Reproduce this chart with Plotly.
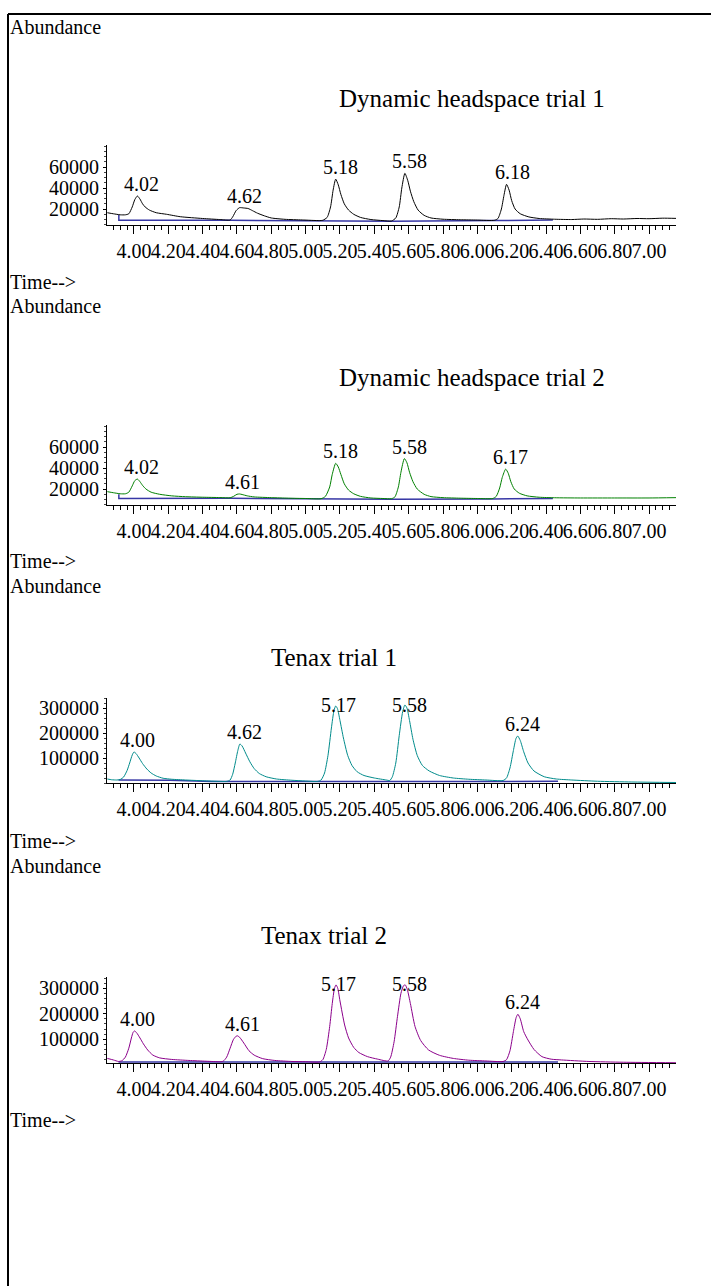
import plotly.graph_objects as go

W, H = 711, 1286
FONT = "'Liberation Serif', 'Times New Roman', 'DejaVu Serif', serif"

# ---------------- data ----------------
tick_labels = ["4.00", "4.20", "4.40", "4.60", "4.80", "5.00", "5.20", "5.40",
               "5.60", "5.80", "6.00", "6.20", "6.40", "6.60", "6.80", "7.00"]
x_range = [3.843, 7.157]

titles = ["Dynamic headspace trial 1", "Dynamic headspace trial 2",
          "Tenax trial 1", "Tenax trial 2"]

# Dynamic headspace trial 1 (black)
p1_time = [3.845, 3.88, 3.92, 3.95, 3.97, 3.99, 4.005, 4.02, 4.035, 4.05, 4.065, 4.09,
           4.13, 4.19, 4.27, 4.40, 4.50, 4.56, 4.575, 4.595, 4.615, 4.64, 4.665, 4.69,
           4.72, 4.76, 4.80, 4.88, 4.98, 5.08, 5.10, 5.125, 5.145, 5.16, 5.175, 5.19,
           5.205, 5.225, 5.25, 5.28, 5.32, 5.38, 5.45, 5.50, 5.525, 5.545, 5.56, 5.578,
           5.595, 5.61, 5.63, 5.655, 5.69, 5.73, 5.80, 5.90, 6.00, 6.10, 6.12, 6.14,
           6.155, 6.17, 6.185, 6.20, 6.22, 6.25, 6.30, 6.36, 6.45, 6.55, 6.62, 6.70,
           6.78, 6.85, 6.93, 7.00, 7.08, 7.157]
p1_abund = [16500, 15500, 14500, 14500, 15500, 22000, 29000, 32400, 29500, 25000, 22000, 19000,
            16500, 15000, 12700, 11000, 10000, 9600, 12500, 18500, 21300, 21000, 20500, 18500,
            16000, 13500, 11500, 10200, 9600, 9000, 9300, 12000, 22000, 38000, 48500, 43000,
            34000, 25000, 19000, 15000, 12000, 10000, 9000, 8600, 11500, 22000, 40000, 54000,
            47000, 37000, 27000, 19000, 14000, 11500, 10300, 9800, 9500, 9300, 11000, 20000,
            33000, 43500, 38000, 28000, 20000, 15500, 12500, 11000, 10300, 10000, 10500, 10200,
            10800, 10500, 11000, 10800, 11300, 11100]
p1_base_t = [3.912, 3.912, 4.56, 5.08, 5.50, 6.11, 6.44]
p1_base_a = [14300, 9400, 9300, 8600, 8300, 9100, 9500]
p1_rt = [4.02, 4.62, 5.18, 5.58, 6.18]
p1_peak = [32400, 21300, 48500, 54000, 43500]

# Dynamic headspace trial 2 (green)
p2_time = [3.845, 3.88, 3.92, 3.95, 3.97, 3.99, 4.005, 4.02, 4.035, 4.05, 4.07, 4.10,
           4.15, 4.22, 4.30, 4.40, 4.50, 4.56, 4.58, 4.60, 4.615, 4.63, 4.66, 4.70,
           4.80, 4.90, 5.00, 5.09, 5.115, 5.14, 5.155, 5.175, 5.19, 5.205, 5.225, 5.25,
           5.28, 5.32, 5.38, 5.45, 5.50, 5.52, 5.54, 5.555, 5.575, 5.59, 5.605, 5.625,
           5.65, 5.69, 5.73, 5.80, 5.90, 6.00, 6.09, 6.11, 6.13, 6.145, 6.165, 6.18,
           6.195, 6.215, 6.245, 6.29, 6.36, 6.45, 6.60, 6.80, 7.00, 7.157]
p2_abund = [17500, 16500, 15500, 15500, 17000, 23000, 28000, 29500, 27000, 23500, 20000, 17000,
            15000, 13500, 12700, 12200, 11900, 11700, 13000, 15000, 15300, 14800, 13500, 12500,
            11800, 11300, 11000, 10800, 13000, 22000, 34000, 44500, 41000, 34000, 25000, 19000,
            15500, 13000, 11500, 11000, 10800, 12500, 22000, 36000, 49000, 45000, 36000, 27000,
            20000, 15000, 12800, 11800, 11300, 11000, 11000, 13000, 21000, 31000, 39000, 35000,
            27000, 20000, 16000, 13500, 12200, 11700, 11500, 11500, 11500, 11800]
p2_base_t = [3.912, 3.912, 4.56, 5.09, 5.50, 6.09, 6.44]
p2_base_a = [15000, 11000, 11200, 10400, 10200, 10600, 11000]
p2_rt = [4.02, 4.61, 5.18, 5.58, 6.17]
p2_peak = [29500, 15300, 44500, 49000, 39000]

# Tenax trial 1 (teal)
p3_time = [3.845, 3.87, 3.90, 3.92, 3.94, 3.96, 3.975, 3.99, 4.00, 4.012, 4.03, 4.05,
           4.075, 4.10, 4.13, 4.17, 4.22, 4.30, 4.40, 4.50, 4.54, 4.56, 4.575, 4.59,
           4.605, 4.617, 4.63, 4.65, 4.675, 4.70, 4.73, 4.77, 4.83, 4.92, 5.00, 5.07,
           5.09, 5.11, 5.13, 5.15, 5.165, 5.175, 5.185, 5.20, 5.22, 5.245, 5.27, 5.30,
           5.34, 5.40, 5.47, 5.49, 5.505, 5.525, 5.545, 5.565, 5.578, 5.59, 5.605, 5.625,
           5.65, 5.68, 5.72, 5.78, 5.86, 5.95, 6.05, 6.15, 6.17, 6.19, 6.21, 6.225,
           6.235, 6.25, 6.27, 6.295, 6.33, 6.39, 6.46, 6.55, 6.70, 6.90, 7.157]
p3_abund = [16000, 13000, 12000, 14000, 24000, 50000, 80000, 112000, 124000, 118000, 100000, 78000,
            56000, 40000, 28000, 19000, 15000, 12000, 9000, 6500, 6500, 12000, 35000, 80000,
            130000, 156000, 148000, 120000, 85000, 58000, 38000, 25000, 16000, 11000, 8000, 6500,
            12000, 40000, 110000, 220000, 290000, 308000, 298000, 250000, 180000, 110000, 70000, 45000,
            30000, 20000, 12000, 10000, 25000, 80000, 190000, 285000, 312000, 300000, 250000, 175000,
            110000, 70000, 48000, 30000, 20000, 15000, 12000, 10000, 20000, 60000, 130000, 178000,
            188000, 170000, 125000, 80000, 48000, 25000, 16000, 12000, 7000, 4000, 2000]
p3_base_t = [3.91, 4.21, 4.45, 5.07, 5.48, 6.15, 6.47]
p3_base_a = [12000, 11000, 5500, 5000, 6000, 6500, 6500]
p3_rt = [4.00, 4.62, 5.17, 5.58, 6.24]
p3_peak = [124000, 156000, 308000, 312000, 188000]

# Tenax trial 2 (purple)
p4_time = [3.845, 3.88, 3.91, 3.93, 3.95, 3.97, 3.985, 3.995, 4.003, 4.015, 4.035, 4.055,
           4.08, 4.11, 4.15, 4.22, 4.32, 4.42, 4.50, 4.52, 4.54, 4.56, 4.58, 4.60,
           4.615, 4.64, 4.67, 4.70, 4.75, 4.82, 4.92, 5.00, 5.08, 5.10, 5.12, 5.14,
           5.155, 5.168, 5.177, 5.187, 5.20, 5.227, 5.25, 5.28, 5.31, 5.36, 5.42, 5.48,
           5.495, 5.515, 5.535, 5.555, 5.57, 5.58, 5.592, 5.61, 5.637, 5.67, 5.716, 5.78,
           5.86, 5.95, 6.05, 6.15, 6.17, 6.19, 6.21, 6.226, 6.236, 6.25, 6.27, 6.295,
           6.33, 6.376, 6.43, 6.49, 6.65, 6.85, 7.157]
p4_abund = [25000, 19000, 13000, 16000, 30000, 65000, 105000, 127000, 132500, 126000, 105000, 82000,
            58000, 38000, 27000, 21000, 17000, 14000, 12000, 14000, 30000, 65000, 100000, 114000,
            108000, 85000, 55000, 38000, 24000, 17000, 13000, 12000, 11000, 20000, 60000, 150000,
            240000, 300000, 313000, 300000, 250000, 156000, 105000, 68000, 48000, 32000, 22000, 15000,
            30000, 90000, 190000, 280000, 310000, 313000, 295000, 240000, 150000, 95000, 58000, 37000,
            25000, 18000, 15000, 13000, 20000, 55000, 130000, 185000, 198000, 180000, 130000, 97000,
            60000, 32000, 22000, 19000, 13000, 10000, 8000]
p4_base_t = [3.91, 4.50, 5.08, 5.48, 6.15, 6.47]
p4_base_a = [11000, 10500, 10000, 10500, 11000, 11000]
p4_rt = [4.00, 4.61, 5.17, 5.58, 6.24]
p4_peak = [132500, 114000, 313000, 313000, 198000]

y_ticks_dhs = [20000, 40000, 60000]
y_ticks_tenax = [100000, 200000, 300000]

# ---------------- layout geometry (pixels) ----------------
panels = [
    dict(t=p1_time, a=p1_abund, bt=p1_base_t, ba=p1_base_a, rt=p1_rt, pk=p1_peak,
         color="black", top=145, bot=225, yr=[4800, 81000], yt=y_ticks_dhs, ym=5000,
         title_x=472, title_y=98, abund_y=27, time_y=282),
    dict(t=p2_time, a=p2_abund, bt=p2_base_t, ba=p2_base_a, rt=p2_rt, pk=p2_peak,
         color="#008000", top=425, bot=505, yr=[4800, 81000], yt=y_ticks_dhs, ym=5000,
         title_x=472, title_y=377, abund_y=306, time_y=561),
    dict(t=p3_time, a=p3_abund, bt=p3_base_t, ba=p3_base_a, rt=p3_rt, pk=p3_peak,
         color="#008b8b", top=698, bot=783, yr=[0, 340000], yt=y_ticks_tenax, ym=20000,
         title_x=334, title_y=657, abund_y=586, time_y=841),
    dict(t=p4_time, a=p4_abund, bt=p4_base_t, ba=p4_base_a, rt=p4_rt, pk=p4_peak,
         color="#8b008b", top=977, bot=1063, yr=[7000, 344000], yt=y_ticks_tenax, ym=20000,
         title_x=324, title_y=935, abund_y=866, time_y=1120),
]

X0, X1 = 107, 676

def py(v):
    return 1 - v / H

fig = go.Figure()
annotations = []
shapes = []

for i, p in enumerate(panels):
    n = "" if i == 0 else str(i + 1)
    xa, ya = "x" + n, "y" + n
    fig.add_trace(go.Scatter(x=p["bt"], y=p["ba"], xaxis=xa, yaxis=ya, mode="lines",
                             line=dict(color="rgb(55,55,165)", width=1.5),
                             hoverinfo="skip"))
    fig.add_trace(go.Scatter(x=p["t"], y=p["a"], xaxis=xa, yaxis=ya, mode="lines",
                             line=dict(color=p["color"], width=1, shape="spline", smoothing=0.6)))
    fig.layout["xaxis" + n] = dict(
        domain=[X0 / W, X1 / W], anchor=ya, range=x_range,
        tickmode="array", tickvals=[float(s) for s in tick_labels], ticktext=tick_labels,
        tickangle=0, ticks="outside", ticklen=8, tickwidth=1, tickcolor="black",
        showline=True, linecolor="black", linewidth=1, showgrid=False, zeroline=False,
        tickfont=dict(family=FONT, size=20, color="black"),
        minor=dict(tick0=4.0, dtick=0.04, ticks="outside", ticklen=4, tickwidth=1,
                   tickcolor="black", showgrid=False),
        fixedrange=True)
    fig.layout["yaxis" + n] = dict(
        domain=[py(p["bot"]), py(p["top"])], anchor=xa, range=p["yr"],
        tickmode="array", tickvals=p["yt"], ticks="outside", ticklen=3, tickwidth=1,
        tickcolor="black", showline=True, linecolor="black", linewidth=1,
        showgrid=False, zeroline=False, tickformat="d",
        tickfont=dict(family=FONT, size=20, color="black"),
        minor=dict(dtick=p["ym"], ticks="outside", ticklen=2, tickwidth=1,
                   tickcolor="#444", showgrid=False),
        fixedrange=True)
    # peak retention-time labels
    hpx = p["bot"] - p["top"]
    lo, hi = p["yr"]
    for rt, pk in zip(p["rt"], p["pk"]):
        ppx = (pk - lo) / (hi - lo) * hpx
        shift = 12 if ppx + 12 <= hpx - 7 else (hpx - 7) - ppx
        annotations.append(dict(x=rt, y=pk, xref=xa, yref=ya, text=f"{rt:.2f}",
                                showarrow=False, xshift=4, yshift=shift, yanchor="middle",
                                font=dict(family=FONT, size=20, color="black")))
    annotations.append(dict(x=p["title_x"] / W, y=py(p["title_y"]), xref="paper", yref="paper",
                            text=titles[i], showarrow=False, xanchor="center", yanchor="middle",
                            font=dict(family=FONT, size=25, color="black")))
    annotations.append(dict(x=8 / W, y=py(p["abund_y"]), xref="paper", yref="paper",
                            text="Abundance", showarrow=False, xanchor="left", yanchor="middle",
                            font=dict(family=FONT, size=20, color="black")))
    annotations.append(dict(x=8 / W, y=py(p["time_y"]), xref="paper", yref="paper",
                            text="Time-->", showarrow=False, xanchor="left", yanchor="middle",
                            font=dict(family=FONT, size=20, color="black")))

# outer frame (top and left edges)
shapes.append(dict(type="line", xref="paper", yref="paper", x0=8 / W, x1=1, y0=py(14), y1=py(14),
                   line=dict(color="black", width=2)))
shapes.append(dict(type="line", xref="paper", yref="paper", x0=8 / W, x1=8 / W, y0=py(14), y1=0,
                   line=dict(color="black", width=2)))

fig.update_layout(width=W, height=H, margin=dict(l=0, r=0, t=0, b=0),
                  paper_bgcolor="white", plot_bgcolor="white", showlegend=False,
                  annotations=annotations, shapes=shapes,
                  font=dict(family=FONT, color="black"))

fig.write_html("out.html", config={"displayModeBar": False})
